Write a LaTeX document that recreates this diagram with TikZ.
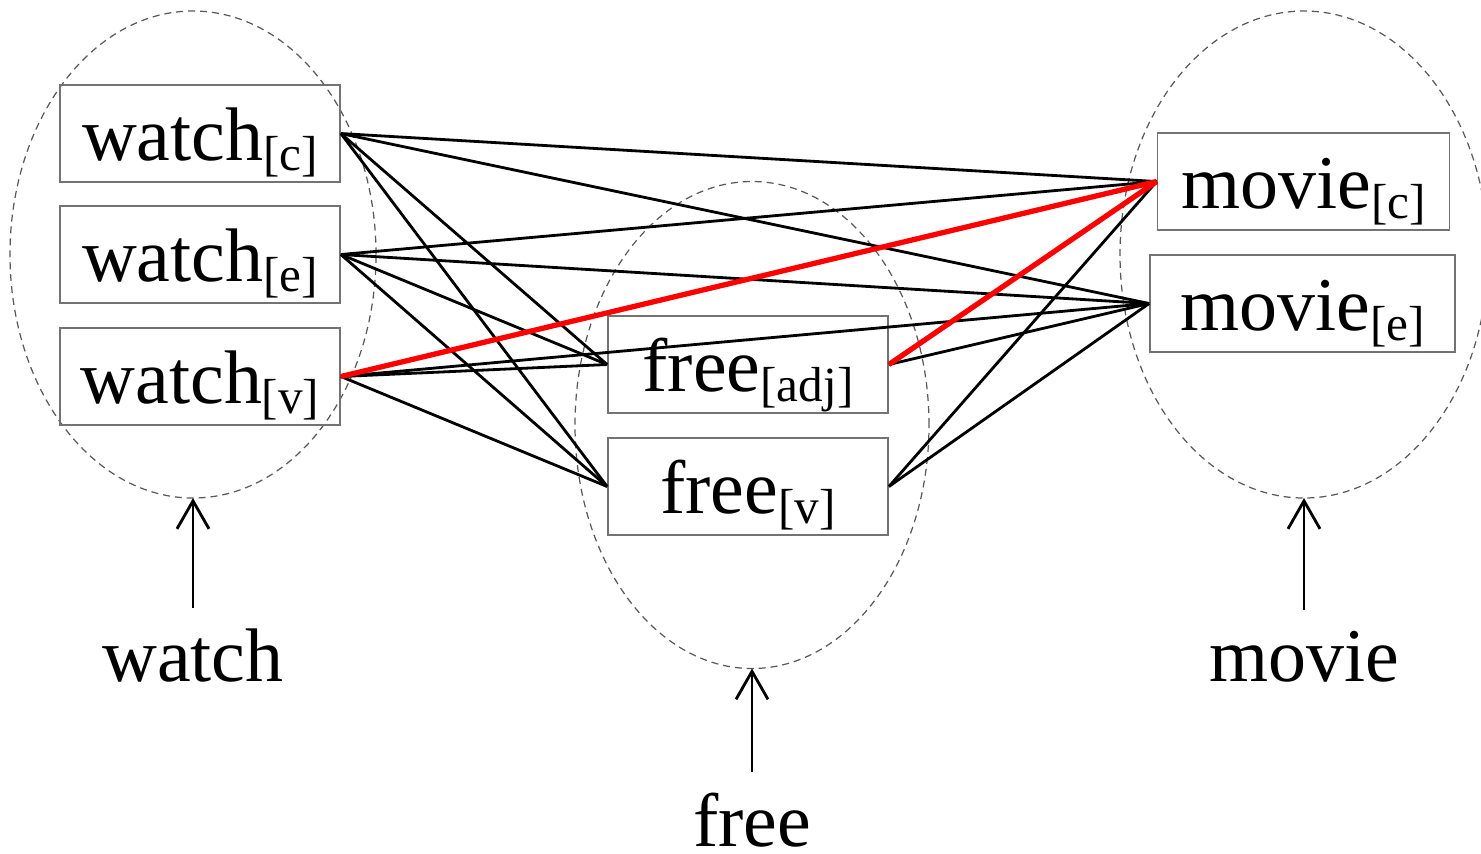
\documentclass[tikz,border=0pt]{standalone}
\usepackage{fontspec}
\setmainfont{Liberation Serif}
\usetikzlibrary{shapes.geometric,arrows.meta}

\newcommand\tok[2]{#1\raisebox{-3pt}{\fontsize{14pt}{14pt}\selectfont[#2]}}

\begin{document}
\begin{tikzpicture}[
		font=\fontsize{21.6pt}{26pt}\selectfont,
		sense/.style={draw=black!55, line width=0.5pt, inner xsep=0pt, inner ysep=0pt,
			text height=0.75cm, text depth=0.22cm, minimum width=2.8cm},
		group/.style={ellipse, draw=black!65, line width=0.35pt, dash pattern=on 2pt off 1.4pt,
			inner sep=0pt, outer sep=0pt, minimum width=3.66cm, minimum height=4.87cm},
		word/.style={anchor=base, inner sep=0.2cm},
		link/.style={line width=0.8pt},
		best/.style={red, line width=1.5pt},
		up/.style={line width=0.8pt, -{Straight Barb[length=2.8mm, width=3.2mm, line width=0.8pt]}}
	]
		\useasboundingbox (0,0) rectangle (14.81,-8.53);

		% Word groups
		\node[group] (wgrp) at (1.93,-2.545) {};
		\node[group, minimum width=3.54cm] (fgrp) at (7.52,-4.25) {};
		\node[group, minimum width=3.68cm] (mgrp) at (13.04,-2.545) {};

		% Senses
		\node[sense] (wc) at (2.00,-1.335) {\tok{watch}{c}};
		\node[sense] (we) at (2.00,-2.545) {\tok{watch}{e}};
		\node[sense] (wv) at (2.00,-3.765) {\tok{watch}{v}};
		\node[sense] (fadj) at (7.48,-3.645) {\tok{free}{adj}};
		\node[sense] (fv) at (7.48,-4.865) {\tok{free}{v}};
		\node[sense, minimum width=2.92cm] (mc) at (13.035,-1.815) {\tok{movie}{c}};
		\node[sense, minimum width=3.05cm] (me) at (13.025,-3.035) {\tok{movie}{e}};

		% Words
		\node[word] (wlab) at (1.93,-6.81) {watch};
		\node[word] (flab) at (7.52,-8.46) {free};
		\node[word] (mlab) at (13.04,-6.81) {movie};
		\draw[up] (wlab.north) -- (wgrp.south);
		\draw[up] (flab.north) -- (fgrp.south);
		\draw[up] (mlab.north) -- (mgrp.south);

		% Links between senses
		\foreach \a/\b in {wc/mc, wc/me, wc/fadj, wc/fv, we/mc, we/me, we/fadj, we/fv,
			wv/me, wv/fadj, wv/fv}
			\draw[link] (\a.east) -- (\b.west);
		\draw[link] (fadj.east) -- (me.west);
		\draw[link] (fv.east) -- (mc.west);
		\draw[link] (fv.east) -- (me.west);

		% Best path
		\draw[best] (wv.east) -- (mc.west);
		\draw[best] (fadj.east) -- (mc.west);
	\end{tikzpicture}
\end{document}
